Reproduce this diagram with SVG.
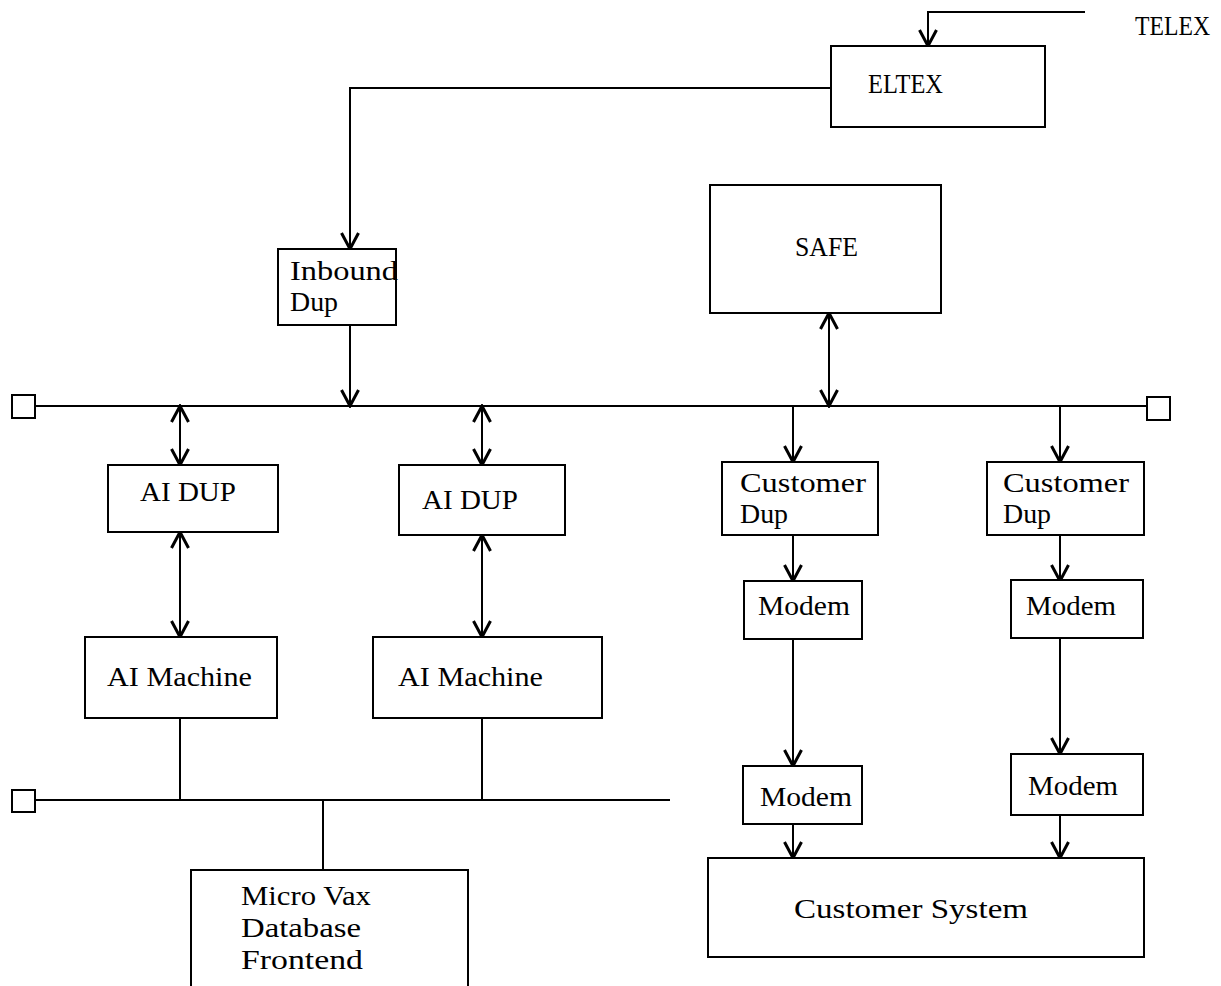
<svg xmlns="http://www.w3.org/2000/svg" width="1221" height="986" viewBox="0 0 1221 986">
<defs>
<marker id="ah" viewBox="0 0 20 20" refX="18" refY="10" markerWidth="20" markerHeight="20" markerUnits="userSpaceOnUse" orient="auto-start-reverse">
<path d="M2,1.5 L18,10 L2,18.5" fill="none" stroke="#000" stroke-width="3"/>
</marker>
</defs>
<style>
.box{fill:#fff;stroke:#000;stroke-width:2}
.ln{fill:none;stroke:#000;stroke-width:2}
.ar{fill:none;stroke:#000;stroke-width:2;marker-end:url(#ah)}
.da{fill:none;stroke:#000;stroke-width:2;marker-end:url(#ah);marker-start:url(#ah)}
text{font-family:"Liberation Serif","Times New Roman",serif;font-size:27px;fill:#000}
</style>
<rect width="1221" height="986" fill="#fff"/>
<g id="connectors">
<path class="ar" d="M1085,12 H928 V46"/>
<path class="ar" d="M831,88 H350 V249"/>
<path class="ar" d="M350,325 V406"/>
<path class="da" d="M829,313 V406"/>
<path class="ln" d="M35,406 H1147"/>
<path class="da" d="M180,406 V465"/>
<path class="da" d="M180,532 V637"/>
<path class="da" d="M482,406 V465"/>
<path class="da" d="M482,535 V637"/>
<path class="ln" d="M180,718 V800"/>
<path class="ln" d="M482,718 V800"/>
<path class="ln" d="M35,800 H670"/>
<path class="ln" d="M323,800 V870"/>
<path class="ar" d="M793,406 V462"/>
<path class="ar" d="M793,535 V581"/>
<path class="ar" d="M793,639 V766"/>
<path class="ar" d="M793,824 V858"/>
<path class="ar" d="M1060,406 V462"/>
<path class="ar" d="M1060,535 V581"/>
<path class="ar" d="M1060,639 V754"/>
<path class="ar" d="M1060,815 V858"/>
</g>
<g id="term1"><rect class="box" x="12" y="395" width="23" height="23"/></g>
<g id="term2"><rect class="box" x="1147" y="397" width="23" height="23"/></g>
<g id="term3"><rect class="box" x="12" y="790" width="23" height="22"/></g>
<g id="telex"><text x="1135" y="35" textLength="75" lengthAdjust="spacingAndGlyphs">TELEX</text></g>
<g id="eltex"><rect class="box" x="831" y="46" width="214" height="81"/><text x="868" y="93" textLength="75" lengthAdjust="spacingAndGlyphs">ELTEX</text></g>
<g id="inbound"><rect class="box" x="278" y="249" width="118" height="76"/><text x="290" y="280" textLength="108" lengthAdjust="spacingAndGlyphs">Inbound</text><text x="290" y="311" textLength="48" lengthAdjust="spacingAndGlyphs">Dup</text></g>
<g id="safe"><rect class="box" x="710" y="185" width="231" height="128"/><text x="795" y="256" textLength="63" lengthAdjust="spacingAndGlyphs">SAFE</text></g>
<g id="aidup1"><rect class="box" x="108" y="465" width="170" height="67"/><text x="140" y="501" textLength="96" lengthAdjust="spacingAndGlyphs">AI DUP</text></g>
<g id="aidup2"><rect class="box" x="399" y="465" width="166" height="70"/><text x="422" y="509" textLength="96" lengthAdjust="spacingAndGlyphs">AI DUP</text></g>
<g id="aim1"><rect class="box" x="85" y="637" width="192" height="81"/><text x="107" y="686" textLength="145" lengthAdjust="spacingAndGlyphs">AI Machine</text></g>
<g id="aim2"><rect class="box" x="373" y="637" width="229" height="81"/><text x="398" y="686" textLength="145" lengthAdjust="spacingAndGlyphs">AI Machine</text></g>
<g id="microvax"><rect class="box" x="191" y="870" width="277" height="130"/><text x="241" y="905" textLength="130" lengthAdjust="spacingAndGlyphs">Micro Vax</text><text x="241" y="937" textLength="120" lengthAdjust="spacingAndGlyphs">Database</text><text x="241" y="969" textLength="122" lengthAdjust="spacingAndGlyphs">Frontend</text></g>
<g id="cdup1"><rect class="box" x="722" y="462" width="156" height="73"/><text x="740" y="492" textLength="126" lengthAdjust="spacingAndGlyphs">Customer</text><text x="740" y="523" textLength="48" lengthAdjust="spacingAndGlyphs">Dup</text></g>
<g id="cdup2"><rect class="box" x="987" y="462" width="157" height="73"/><text x="1003" y="492" textLength="126" lengthAdjust="spacingAndGlyphs">Customer</text><text x="1003" y="523" textLength="48" lengthAdjust="spacingAndGlyphs">Dup</text></g>
<g id="modem1"><rect class="box" x="744" y="581" width="118" height="58"/><text x="758" y="615" textLength="92" lengthAdjust="spacingAndGlyphs">Modem</text></g>
<g id="modem2"><rect class="box" x="743" y="766" width="119" height="58"/><text x="760" y="806" textLength="92" lengthAdjust="spacingAndGlyphs">Modem</text></g>
<g id="modem3"><rect class="box" x="1011" y="580" width="132" height="58"/><text x="1026" y="615" textLength="90" lengthAdjust="spacingAndGlyphs">Modem</text></g>
<g id="modem4"><rect class="box" x="1011" y="754" width="132" height="61"/><text x="1028" y="795" textLength="90" lengthAdjust="spacingAndGlyphs">Modem</text></g>
<g id="custsys"><rect class="box" x="708" y="858" width="436" height="99"/><text x="794" y="918" textLength="234" lengthAdjust="spacingAndGlyphs">Customer System</text></g>
</svg>
